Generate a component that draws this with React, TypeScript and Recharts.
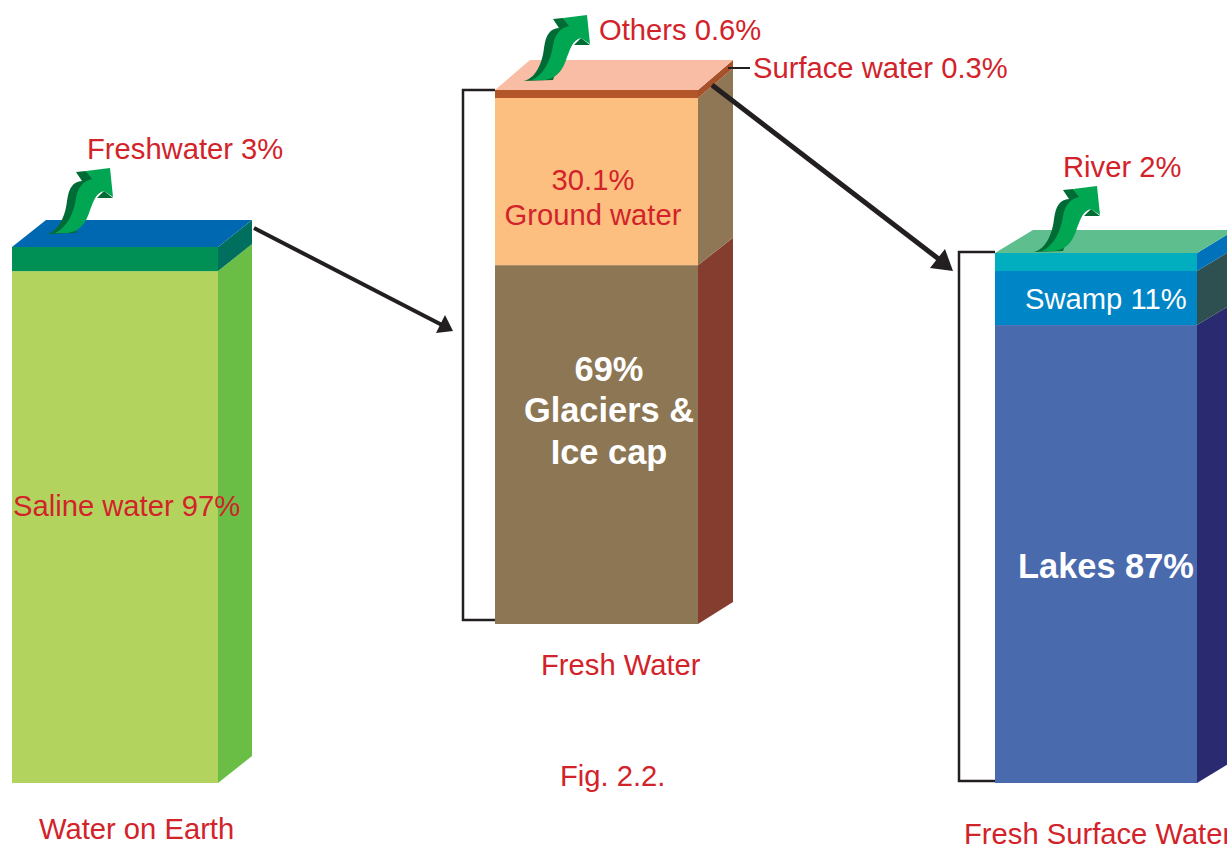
import { BarChart, Bar, XAxis, YAxis } from "recharts";

// share of each column's height as drawn, bottom segment first
const earthSegments = ["Saline water", "Freshwater"];
const earthShares = [95.5, 4.5];
const freshSegments = ["Glaciers", "Ground water", "Surface water"];
const freshShares = [67.2, 31.3, 1.5];
const surfaceSegments = ["Lakes", "Swamp", "River"];
const surfaceShares = [86.4, 10.2, 3.4];

const RED = "#D2232A";
const INK = "#231F20";
const FONT = "'Liberation Sans', Arial, sans-serif";

function makeRow(name: string, keys: string[], values: number[]) {
  const row: Record<string, string | number> = { name };
  keys.forEach((k, i) => (row[k] = values[i]));
  return row;
}

interface ColumnProps {
  name: string;
  keys: string[];
  values: number[];
  left: number;
  top: number;
  width: number;
  height: number;
  dx: number;
  dyTop: number;
  dyBottom: number;
  fronts: string[];
  sides: string[];
  topFace: string;
}

function Column(p: ColumnProps) {
  const mTop = 40;
  const mLeft = 5;
  const mRight = 50;
  const mBottom = 5;

  const depthAt = (y: number) =>
    p.dyTop + ((p.dyBottom - p.dyTop) * (y - mTop)) / p.height;

  return (
    <div style={{ position: "absolute", left: p.left - mLeft, top: p.top - mTop }}>
      <BarChart
        width={p.width + mLeft + mRight}
        height={p.height + mTop + mBottom}
        data={[makeRow(p.name, p.keys, p.values)]}
        margin={{ top: mTop, right: mRight, bottom: mBottom, left: mLeft }}
        barCategoryGap={0}
      >
        <XAxis dataKey="name" hide />
        <YAxis hide domain={[0, 100]} />
        {p.keys.map((k, i) => (
          <Bar
            key={k}
            dataKey={k}
            stackId="column"
            isAnimationActive={false}
            shape={(s: any) => {
              const right = s.x + s.width;
              const bottom = s.y + s.height;
              const last = i === p.keys.length - 1;
              return (
                <g>
                  <polygon
                    fill={p.sides[i]}
                    points={`${right},${s.y} ${right + p.dx},${s.y + depthAt(s.y)} ${right + p.dx},${bottom + depthAt(bottom)} ${right},${bottom}`}
                  />
                  <rect x={s.x} y={s.y} width={s.width} height={s.height} fill={p.fronts[i]} />
                  {last && (
                    <polygon
                      fill={p.topFace}
                      points={`${s.x},${s.y} ${s.x + p.dx},${s.y + p.dyTop} ${right + p.dx},${s.y + p.dyTop} ${right},${s.y}`}
                    />
                  )}
                </g>
              );
            }}
          />
        ))}
      </BarChart>
    </div>
  );
}

function Swoosh({ x, y }: { x: number; y: number }) {
  return (
    <g transform={`translate(${x},${y})`}>
      <path
        fill="#006B35"
        d="M0,0 C10,-1 19,-14 21,-33 C23,-47 27,-52 36,-53 L30,-62 L40,-63 L47,-55 L40,-30 L30,-1 Z"
      />
      <path
        fill="#00A651"
        d="M9,-1 C20,-6 28,-20 30,-36 C32,-47 37,-53 46,-55 L40,-63 L64,-66 L67,-37 L58,-43 C50,-41 48,-34 44,-24 C40,-10 32,0 17,-1 Z"
      />
      <polygon fill="#006B35" points="51,-36 67,-36 58,-43" />
    </g>
  );
}

function Arrow({ x1, y1, x2, y2, w, head }: { x1: number; y1: number; x2: number; y2: number; w: number; head: string }) {
  return (
    <g>
      <line x1={x1} y1={y1} x2={x2} y2={y2} stroke={INK} strokeWidth={w} />
      <polygon fill={INK} points={head} />
    </g>
  );
}

function Label({ x, y, children, fill = RED, anchor = "start", bold = false, size = 29.2 }: any) {
  return (
    <text x={x} y={y} fill={fill} textAnchor={anchor} fontSize={size} fontWeight={bold ? 700 : 400} fontFamily={FONT}>
      {children}
    </text>
  );
}

export default function App() {
  return (
    <div style={{ position: "absolute", left: 0, top: 0, width: 1227, height: 845, overflow: "hidden", background: "#fff" }}>
      <Column
        name="Water on Earth"
        keys={earthSegments}
        values={earthShares}
        left={12}
        top={247}
        width={206}
        height={536}
        dx={34}
        dyTop={-27}
        dyBottom={-27}
        fronts={["#B2D45F", "#008F54"]}
        sides={["#6ABD45", "#006F5E"]}
        topFace="#0068B1"
      />
      <Column
        name="Fresh Water"
        keys={freshSegments}
        values={freshShares}
        left={495}
        top={90}
        width={203}
        height={534}
        dx={35}
        dyTop={-30}
        dyBottom={-22}
        fronts={["#8C7654", "#FDBF80", "#B25629"]}
        sides={["#843D2E", "#8F7755", "#A6512A"]}
        topFace="#F9BDA6"
      />
      <Column
        name="Fresh Surface Water"
        keys={surfaceSegments}
        values={surfaceShares}
        left={995}
        top={253}
        width={202}
        height={530}
        dx={38}
        dyTop={-23}
        dyBottom={-23}
        fronts={["#4A6AAE", "#0085C6", "#00AEBF"]}
        sides={["#2A2A70", "#2E5050", "#0072BC"]}
        topFace="#5FBE8E"
      />

      <svg width={1227} height={845} style={{ position: "absolute", left: 0, top: 0 }}>
        <Swoosh x={46} y={234} />
        <Swoosh x={523} y={81} />
        <Swoosh x={1033} y={252} />

        <path d="M495,90 H463 V620 H495" fill="none" stroke={INK} strokeWidth={2.5} />
        <path d="M995,252 H959 V781 H995" fill="none" stroke={INK} strokeWidth={2.5} />
        <line x1={728} y1={68} x2={750} y2={68} stroke={INK} strokeWidth={2} />

        <Arrow x1={254} y1={228} x2={442} y2={325} w={4} head="453,331 436,333 445,315" />
        <Arrow x1={712} y1={85} x2={940} y2={260} w={5} head="953,271 930,268 945,249" />

        <Label x={87} y={159}>Freshwater 3%</Label>
        <Label x={13} y={516}>Saline water 97%</Label>
        <Label x={39} y={839}>Water on Earth</Label>
        <Label x={599} y={40}>Others 0.6%</Label>
        <Label x={753} y={78}>Surface water 0.3%</Label>
        <Label x={593} y={190} anchor="middle">30.1%</Label>
        <Label x={593} y={225} anchor="middle">Ground water</Label>
        <Label x={609} y={381} anchor="middle" fill="#fff" bold size={34.4}>69%</Label>
        <Label x={609} y={422} anchor="middle" fill="#fff" bold size={34.4}>Glaciers &amp;</Label>
        <Label x={609} y={464} anchor="middle" fill="#fff" bold size={34.4}>Ice cap</Label>
        <Label x={541} y={675}>Fresh Water</Label>
        <Label x={560} y={786}>Fig. 2.2.</Label>
        <Label x={1063} y={177}>River 2%</Label>
        <Label x={1025} y={309} fill="#fff">Swamp 11%</Label>
        <Label x={1018} y={578} fill="#fff" bold size={34.4}>Lakes 87%</Label>
        <Label x={964} y={844}>Fresh Surface Water</Label>
      </svg>
    </div>
  );
}
